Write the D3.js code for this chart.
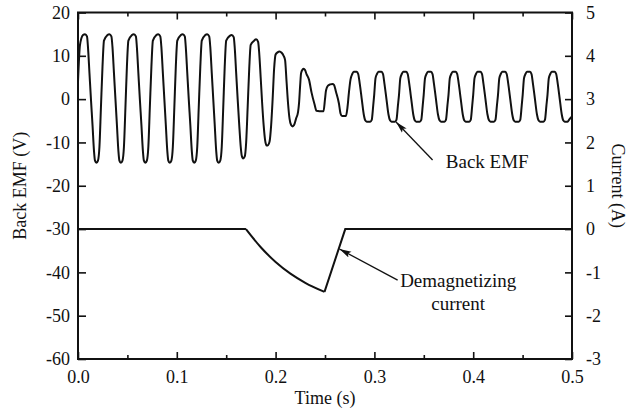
<!DOCTYPE html>
<html>
<head>
<meta charset="utf-8">
<script src="https://cdnjs.cloudflare.com/ajax/libs/d3/7.8.5/d3.min.js"></script>
<style>
  html, body { margin: 0; padding: 0; background: #fff; }
  svg { display: block; }
  text { font-family: "Liberation Serif", "Times New Roman", serif; fill: #111; }
</style>
</head>
<body>
<svg id="chart" width="636" height="410"></svg>
<script>
// ---------------- DATA ----------------
const xTicks = [0, 0.1, 0.2, 0.3, 0.4, 0.5];
const xMinorTicks = [0.05, 0.15, 0.25, 0.35, 0.45];
const emfTicks = [20, 10, 0, -10, -20, -30, -40, -50, -60];
const currentTicks = [5, 4, 3, 2, 1, 0, -1, -2, -3];

// Back EMF (V) vs time (s)
const emfTime = [
  0.0000, 0.0020,
  0.0051, 0.0071, 0.0091, 0.0101, 0.0116, 0.0131, 0.0147, 0.0162, 0.0172, 0.0187, 0.0202, 0.0217, 0.0232, 0.0248, 0.0263,
  0.0298, 0.0318, 0.0338, 0.0349, 0.0364, 0.0379, 0.0394, 0.0409, 0.0419, 0.0434, 0.0450, 0.0465, 0.0480, 0.0495, 0.0510,
  0.0546, 0.0566, 0.0586, 0.0596, 0.0611, 0.0626, 0.0642, 0.0657, 0.0667, 0.0682, 0.0697, 0.0712, 0.0727, 0.0743, 0.0758,
  0.0793, 0.0813, 0.0833, 0.0844, 0.0859, 0.0874, 0.0889, 0.0904, 0.0914, 0.0929, 0.0945, 0.0960, 0.0975, 0.0990, 0.1005,
  0.1041, 0.1061, 0.1081, 0.1091, 0.1106, 0.1121, 0.1137, 0.1152, 0.1162, 0.1177, 0.1192, 0.1207, 0.1222, 0.1238, 0.1253,
  0.1288, 0.1308, 0.1328, 0.1339, 0.1354, 0.1369, 0.1384, 0.1399, 0.1409, 0.1424, 0.1440, 0.1455, 0.1470, 0.1485, 0.1500,
  0.1536, 0.1556, 0.1576, 0.1586, 0.1601, 0.1616, 0.1632, 0.1647, 0.1657, 0.1672, 0.1687, 0.1702, 0.1717, 0.1733, 0.1748,
  0.1783, 0.1803, 0.1823, 0.1833, 0.1849, 0.1864, 0.1879, 0.1894, 0.1909, 0.1924, 0.1939, 0.1955, 0.1970, 0.1985, 0.2000,
  0.2020, 0.2040, 0.2061, 0.2081, 0.2096, 0.2111, 0.2126, 0.2141, 0.2157, 0.2172, 0.2187, 0.2207, 0.2227, 0.2237, 0.2248, 0.2258,
  0.2273, 0.2283, 0.2298, 0.2313, 0.2338, 0.2364, 0.2394, 0.2414, 0.2444, 0.2485, 0.2500, 0.2510, 0.2530, 0.2553, 0.2576, 0.2591, 0.2611, 0.2641, 0.2657, 0.2672, 0.2712, 0.2727, 0.2742, 0.2758,
  0.2776, 0.2791, 0.2821, 0.2836, 0.2852, 0.2872, 0.2892, 0.2907, 0.2922, 0.2958, 0.2973, 0.2988, 0.2998, 0.3011,
  0.3026, 0.3042, 0.3072, 0.3087, 0.3102, 0.3122, 0.3142, 0.3158, 0.3173, 0.3208, 0.3223, 0.3238, 0.3249, 0.3262,
  0.3277, 0.3292, 0.3322, 0.3337, 0.3353, 0.3373, 0.3393, 0.3408, 0.3423, 0.3459, 0.3474, 0.3489, 0.3499, 0.3512,
  0.3527, 0.3542, 0.3573, 0.3588, 0.3603, 0.3623, 0.3643, 0.3659, 0.3674, 0.3709, 0.3724, 0.3739, 0.3750, 0.3763,
  0.3778, 0.3793, 0.3823, 0.3838, 0.3854, 0.3874, 0.3894, 0.3909, 0.3924, 0.3960, 0.3975, 0.3990, 0.4000, 0.4013,
  0.4028, 0.4043, 0.4074, 0.4089, 0.4104, 0.4124, 0.4144, 0.4160, 0.4175, 0.4210, 0.4225, 0.4240, 0.4251, 0.4264,
  0.4279, 0.4294, 0.4324, 0.4339, 0.4355, 0.4375, 0.4395, 0.4410, 0.4425, 0.4461, 0.4476, 0.4491, 0.4501, 0.4514,
  0.4529, 0.4544, 0.4575, 0.4590, 0.4605, 0.4625, 0.4645, 0.4661, 0.4676, 0.4711, 0.4726, 0.4741, 0.4752, 0.4765,
  0.4780, 0.4795, 0.4825, 0.4840, 0.4856, 0.4876, 0.4896, 0.4911, 0.4926, 0.4955, 0.4975, 0.5000
];
const emfVolts = [
  4, 12.5,
  14.8, 15, 14.5, 12, 6, 0, -6, -12, -14.2, -14.7, -14.2, -11, -2, 7.5, 13.5,
  14.8, 15, 14.5, 12, 6, 0, -6, -12, -14.2, -14.7, -14.2, -11, -2, 7.5, 13.5,
  14.8, 15, 14.5, 12, 6, 0, -6, -12, -14.2, -14.7, -14.2, -11, -2, 7.5, 13.5,
  14.8, 15, 14.5, 12, 6, 0, -6, -12, -14.2, -14.7, -14.2, -11, -2, 7.5, 13.5,
  14.8, 15, 14.5, 12, 6, 0, -6, -12, -14.2, -14.7, -14.2, -11, -2, 7.5, 13.5,
  14.8, 15, 14.5, 12, 6, 0, -6, -12, -14.2, -14.7, -14.2, -11, -2, 7.5, 13.5,
  14.6, 14.8, 14.3, 12, 6, 0, -6, -11, -13, -13.7, -13.3, -10, -2, 7, 12.5,
  13.5, 13.8, 13.2, 11, 5, -1, -6, -9.5, -10.7, -10.6, -9.8, -6, 0, 7, 10.3,
  10.8, 11, 10.7, 10, 9, 4, -1, -4.5, -6, -6.3, -6, -4.5, -3, -1, 3, 6,
  6.8, 7, 6.7, 5.8, 4.5, 1.5, -1.2, -2.7, -2.8, -2.8, 0, 2, 3.1, 3.4, 3.5, 3.3, 1.7, -1, -3.3, -3.9, -3.9, -2, 1.5, 4.5,
  5.8, 6.3, 6.3, 5.8, 3.5, 0, -3.5, -4.9, -5.2, -5.2, -4.8, -1.5, 1, 4.8,
  5.8, 6.3, 6.3, 5.8, 3.5, 0, -3.5, -4.9, -5.2, -5.2, -4.8, -1.5, 1, 4.8,
  5.8, 6.3, 6.3, 5.8, 3.5, 0, -3.5, -4.9, -5.2, -5.2, -4.8, -1.5, 1, 4.8,
  5.8, 6.3, 6.3, 5.8, 3.5, 0, -3.5, -4.9, -5.2, -5.2, -4.8, -1.5, 1, 4.8,
  5.8, 6.3, 6.3, 5.8, 3.5, 0, -3.5, -4.9, -5.2, -5.2, -4.8, -1.5, 1, 4.8,
  5.8, 6.3, 6.3, 5.8, 3.5, 0, -3.5, -4.9, -5.2, -5.2, -4.8, -1.5, 1, 4.8,
  5.8, 6.3, 6.3, 5.8, 3.5, 0, -3.5, -4.9, -5.2, -5.2, -4.8, -1.5, 1, 4.8,
  5.8, 6.3, 6.3, 5.8, 3.5, 0, -3.5, -4.9, -5.2, -5.2, -4.8, -1.5, 1, 4.8,
  5.8, 6.3, 6.3, 5.8, 3.5, 0, -3.5, -4.9, -5.2, -5.2, -4.6, -4.0
];

// Demagnetizing current (A) vs time (s)
const currentFlatTime = [0.0, 0.17];
const currentFlatAmps = [0, 0];
const currentDecayTime = [0.17, 0.185, 0.2, 0.215, 0.23, 0.2495];
const currentDecayAmps = [0, -0.42, -0.76, -1.03, -1.24, -1.45];
const currentRecoverTime = [0.2495, 0.2705, 0.5];
const currentRecoverAmps = [-1.45, 0, 0];

// Annotations (data coordinates)
const emfNote = { text: "Back EMF", t: 0.4142, v: -16, tailT: 0.3589, tailV: -14.06, tipT: 0.3219, tipV: -5.28 };
const curNote = { lines: ["Demagnetizing", "current"], t: 0.3848, a: [-1.345, -1.87], tailT: 0.3235, tailA: -1.18, tipT: 0.2646, tipA: -0.46 };

// ---------------- CHART ----------------
const W = 636, H = 410;
const L = 78, R = 572, T = 12.5, B = 359;
const svg = d3.select("#chart");

const x = d3.scaleLinear().domain([0, 0.5]).range([L, R]);
const yL = d3.scaleLinear().domain([-60, 20]).range([B, T]);
const yR = d3.scaleLinear().domain([-3, 5]).range([B, T]);

const fontSize = 18;
const ink = "#111";

function styleAxis(g) {
  g.select(".domain").remove();
  g.selectAll(".tick line").attr("stroke", ink).attr("stroke-width", 1.6);
  g.selectAll(".tick text").attr("font-size", fontSize)
    .attr("font-family", "'Liberation Serif', 'Times New Roman', serif").attr("fill", ink);
}
const fmtInt = d => String(d).replace("\u2212", "-");

// bottom axis (major with labels)
svg.append("g").attr("transform", `translate(0,${B})`)
  .call(d3.axisBottom(x).tickValues(xTicks).tickFormat(d3.format(".1f")).tickSizeInner(-7).tickSizeOuter(0).tickPadding(11))
  .call(styleAxis);
// bottom minor
svg.append("g").attr("transform", `translate(0,${B})`)
  .call(d3.axisBottom(x).tickValues(xMinorTicks).tickFormat("").tickSizeInner(-4).tickSizeOuter(0))
  .call(styleAxis);
// top axis major/minor
svg.append("g").attr("transform", `translate(0,${T})`)
  .call(d3.axisTop(x).tickValues(xTicks).tickFormat("").tickSizeInner(-7).tickSizeOuter(0))
  .call(styleAxis);
svg.append("g").attr("transform", `translate(0,${T})`)
  .call(d3.axisTop(x).tickValues(xMinorTicks).tickFormat("").tickSizeInner(-4).tickSizeOuter(0))
  .call(styleAxis);
// left axis
svg.append("g").attr("transform", `translate(${L},0)`)
  .call(d3.axisLeft(yL).tickValues(emfTicks).tickFormat(fmtInt).tickSizeInner(-8).tickSizeOuter(0).tickPadding(8))
  .call(styleAxis);
// right axis
svg.append("g").attr("transform", `translate(${R},0)`)
  .call(d3.axisRight(yR).tickValues(currentTicks).tickFormat(fmtInt).tickSizeInner(-7).tickSizeOuter(0).tickPadding(14))
  .call(styleAxis);

// frame
svg.append("rect").attr("x", L).attr("y", T).attr("width", R - L).attr("height", B - T)
  .attr("fill", "none").attr("stroke", ink).attr("stroke-width", 2);

// axis titles
svg.append("text").attr("x", (L + R) / 2).attr("y", 404).attr("text-anchor", "middle")
  .attr("font-size", fontSize).text("Time (s)");
svg.append("text").attr("transform", `translate(26,${(T + B) / 2}) rotate(-90)`).attr("text-anchor", "middle")
  .attr("font-size", fontSize).text("Back EMF (V)");
svg.append("text").attr("transform", `translate(612,${(T + B) / 2}) rotate(90)`).attr("text-anchor", "middle")
  .attr("font-size", fontSize).text("Current (A)");

// EMF line
const emfData = emfTime.map((t, i) => [t, emfVolts[i]]);
svg.append("path").datum(emfData)
  .attr("fill", "none").attr("stroke", ink).attr("stroke-width", 2).attr("stroke-linejoin", "round")
  .attr("d", d3.line().x(d => x(d[0])).y(d => yL(d[1])).curve(d3.curveMonotoneX));

// current line
const lineR = d3.line().x(d => x(d[0])).y(d => yR(d[1]));
svg.append("path").datum(currentFlatTime.map((t, i) => [t, currentFlatAmps[i]]))
  .attr("fill", "none").attr("stroke", ink).attr("stroke-width", 2).attr("d", lineR);
svg.append("path").datum(currentDecayTime.map((t, i) => [t, currentDecayAmps[i]]))
  .attr("fill", "none").attr("stroke", ink).attr("stroke-width", 2).attr("d", lineR.curve(d3.curveMonotoneX));
svg.append("path").datum(currentRecoverTime.map((t, i) => [t, currentRecoverAmps[i]]))
  .attr("fill", "none").attr("stroke", ink).attr("stroke-width", 2).attr("stroke-linejoin", "miter")
  .attr("d", d3.line().x(d => x(d[0])).y(d => yR(d[1])));

// arrow marker
svg.append("defs").append("marker")
  .attr("id", "arrow").attr("viewBox", "0 0 12 8").attr("refX", 12).attr("refY", 4)
  .attr("markerWidth", 12).attr("markerHeight", 8).attr("markerUnits", "userSpaceOnUse").attr("orient", "auto")
  .append("path").attr("d", "M0,0.8 L12,4 L0,7.2 L2.5,4 Z").attr("fill", ink);

// Back EMF annotation
svg.append("line")
  .attr("x1", x(emfNote.tailT)).attr("y1", yL(emfNote.tailV))
  .attr("x2", x(emfNote.tipT)).attr("y2", yL(emfNote.tipV))
  .attr("stroke", ink).attr("stroke-width", 1.3).attr("marker-end", "url(#arrow)");
svg.append("text").attr("x", x(emfNote.t)).attr("y", yL(emfNote.v)).attr("text-anchor", "middle")
  .attr("font-size", 19).text(emfNote.text);

// Demagnetizing current annotation
svg.append("line")
  .attr("x1", x(curNote.tailT)).attr("y1", yR(curNote.tailA))
  .attr("x2", x(curNote.tipT)).attr("y2", yR(curNote.tipA))
  .attr("stroke", ink).attr("stroke-width", 1.3).attr("marker-end", "url(#arrow)");
curNote.lines.forEach((s, i) => {
  svg.append("text").attr("x", x(curNote.t)).attr("y", yR(curNote.a[i])).attr("text-anchor", "middle")
    .attr("font-size", 19).text(s);
});
</script>
</body>
</html>
